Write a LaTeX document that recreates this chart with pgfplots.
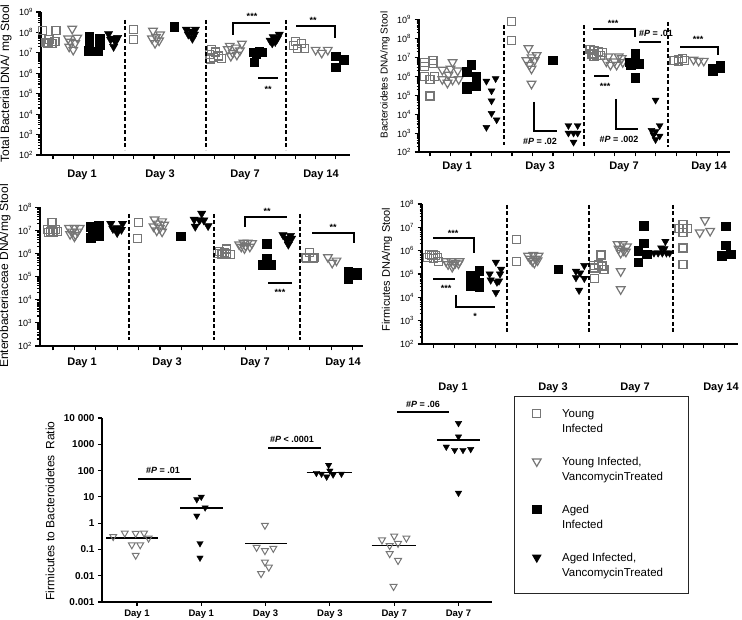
\documentclass[border=0pt]{standalone}
\usepackage{pgfplots}
\pgfplotsset{compat=1.18}
\usepackage{fontspec}
\setmainfont{Liberation Sans}
\definecolor{yg}{RGB}{118,118,118}
\newcommand\dayfont{\fontsize{11}{12}\selectfont\bfseries}
\newcommand\lgd[2]{\vtop{\baselineskip=15pt\hbox to 108pt{#1\hfil}\hbox to 108pt{#2\hfil}}}
\tikzset{sig/.style={font=\fontsize{9}{9}\selectfont\bfseries, inner sep=0pt},
  bar/.style={line width=1.2pt},
  dsh/.style={line width=1.2pt, dash pattern=on 4pt off 2.5pt}}
\pgfplotsset{
 mypanel/.style={anchor=south west, scale only axis,
   axis lines=left, axis line style={-, line width=1.8pt},
   enlargelimits=false, clip=false,
   tick align=outside, major tick length=4.5pt, minor tick length=2.5pt,
   tick style={black, line width=1.1pt},
   xtick={0,...,14}, xticklabels={,,,,,,,,,,,,,,},
   ytick={1e2,1e3,1e4,1e5,1e6,1e7,1e8,1e9},
   yticklabels={10\textsuperscript{2},10\textsuperscript{3},10\textsuperscript{4},10\textsuperscript{5},10\textsuperscript{6},10\textsuperscript{7},10\textsuperscript{8},10\textsuperscript{9}},
   minor ytick={2e2,3e2,4e2,5e2,6e2,7e2,8e2,9e2,2e3,3e3,4e3,5e3,6e3,7e3,8e3,9e3,2e4,3e4,4e4,5e4,6e4,7e4,8e4,9e4,2e5,3e5,4e5,5e5,6e5,7e5,8e5,9e5,2e6,3e6,4e6,5e6,6e6,7e6,8e6,9e6,2e7,3e7,4e7,5e7,6e7,7e7,8e7,9e7,2e8,3e8,4e8,5e8,6e8,7e8,8e8,9e8},
   tick label style={font=\fontsize{9}{10}\selectfont},
 },
 yi/.style={only marks, color=yg, mark=square, mark size=4pt, mark options={line width=1.2pt}},
 yv/.style={only marks, color=yg, mark=triangle, mark size=5pt, mark options={rotate=180, line width=1.2pt}},
 ai/.style={only marks, color=black, mark=square*, mark size=4.3pt},
 av/.style={only marks, color=black, mark=triangle*, mark size=4.8pt, mark options={rotate=180}},
 dotlegend/.style={legend image code/.code={\draw[##1] plot coordinates {(0pt,4pt)};}},
}
\begin{document}
\begin{tikzpicture}[x=1pt,y=1pt]
\useasboundingbox (0pt,0pt) rectangle (742pt,619pt);

% ---------------- Panel A: total bacterial DNA
\begin{axis}[ymode=log, mypanel, at={(41pt,464pt)}, width=309pt, height=143pt,
  xmin=-0.594, xmax=14.70, ymin=1e2, ymax=1e9]
\addplot[yi] coordinates {(-0.5,1.2e8) (0.15,1.2e8) (-0.2,4.5e7) (-0.35,3.2e7) (-0.05,3.0e7) (0.1,3.5e7) (-0.25,3e7)
 (4.0,1.4e8) (4.0,4.5e7)
 (7.85,1.5e7) (8.05,1.1e7) (7.75,8e6) (8.2,7e6) (7.95,6e6) (8.35,5.5e6) (7.8,5e6)
 (12.0,3.5e7) (12.3,3e7) (11.9,2.2e7) (12.45,1.7e7) (12.1,1.6e7)};
\addplot[yv] coordinates {(0.95,1.5e8) (0.75,5e7) (1.2,5.5e7) (0.85,3.5e7) (1.1,3e7) (0.8,2e7) (1.0,1.4e7)
 (4.95,1.2e8) (5.3,8e7) (5.1,6e7) (4.9,5e7) (5.25,4e7) (5.05,3e7)
 (9.35,2.8e7) (8.75,2.2e7) (9.05,1.8e7) (8.65,1.5e7) (9.25,1.3e7) (8.9,1e7) (9.1,8e6) (8.8,7e6)
 (13.0,1.4e7) (13.3,1e7) (13.6,1.4e7)};
\addplot[ai] coordinates {(1.8,6e7) (2.3,5e7) (2.3,2.5e7) (1.8,2e7) (1.75,1.3e7) (2.2,1.2e7)
 (6.0,1.9e8)
 (10.2,1.2e7) (9.9,1.1e7) (10.35,1.1e7) (10.05,9e6) (9.95,3.5e6)
 (14.0,7e6) (14.4,4.5e6) (14.0,2e6)};
\addplot[av] coordinates {(2.75,8.5e7) (3.0,5e7) (3.2,5.5e7) (2.85,4.5e7) (3.1,3.5e7) (3.0,2e7)
 (6.6,1.4e8) (7.05,1.4e8) (6.85,1.1e8) (6.7,8e7) (7.0,8e7) (6.9,5e7)
 (11.2,8e7) (10.9,6e7) (11.1,5e7) (10.75,4e7) (11.0,3.5e7) (10.85,3e7)};
\end{axis}

% ---------------- Panel B: Bacteroidetes
\begin{axis}[ymode=log, mypanel, at={(419pt,467pt)}, width=311pt, height=132.5pt,
  xmin=-0.537, xmax=14.63, ymin=1e2, ymax=1e9]
\addplot[yi] coordinates {(-0.25,5.5e6) (0.15,7e6) (-0.25,3.2e6) (0.15,4.7e6) (-0.25,1e6) (0.0,7e5) (0.2,1e6) (0.0,9e4)
 (3.98,7.6e8) (3.98,8e7)
 (7.8,2.5e7) (8.0,2.2e7) (8.2,2e7) (8.4,1.8e7) (7.9,1.5e7) (8.1,1.3e7) (8.3,1.2e7) (8.0,1.1e7)
 (11.9,6.5e6) (12.1,7.5e6) (12.3,9e6) (12.1,6e6) (12.4,6.5e6)};
\addplot[yv] coordinates {(1.1,5.5e6) (0.6,2.2e6) (1.0,2.5e6) (1.35,2e6) (0.9,1.2e6) (0.6,7e5) (1.1,6.5e5) (1.4,7e5) (0.85,4.5e5)
 (4.8,3e7) (5.2,1.3e7) (4.95,1e7) (4.7,7e6) (5.1,7e6) (4.85,4e6) (4.95,2.5e6) (4.95,4e5)
 (8.7,1.1e7) (9.2,1.1e7) (9.35,9e6) (8.6,6e6) (9.0,6e6) (9.4,5.5e6) (8.8,4e6) (9.1,4e6)
 (12.85,7.5e6) (13.1,6.5e6) (13.35,6.5e6)};
\addplot[ai] coordinates {(2.0,4.2e6) (1.8,1.8e6) (2.25,1e6) (2.25,5e5) (1.8,3e5) (2.25,3e5) (1.8,2.2e5)
 (5.98,7e6)
 (10.0,1.6e7) (9.75,5.5e6) (10.2,4.5e6) (9.8,4e6) (10.0,8.5e5)
 (13.8,2.6e6) (13.8,1.9e6) (14.15,3.8e6) (14.15,2.8e6)};
\addplot[av, mark size=4pt] coordinates {(2.75,5.5e5) (3.2,7.5e5) (3.0,1.7e5) (3.0,5e4) (3.0,1.1e4) (3.25,5e3) (2.75,2e3)
 (6.75,2.5e3) (7.2,2.5e3) (6.75,1e3) (7.0,1e3) (7.2,1e3) (7.0,3.3e2)
 (11.0,5.5e4) (11.2,2.5e3) (10.8,1.4e3) (11.0,1.2e3) (10.9,8e2) (11.2,7e2) (11.0,4.5e2)};
\end{axis}

% ---------------- Panel C: Enterobacteriaceae
\begin{axis}[ymode=log, mypanel, at={(40pt,273pt)}, width=323pt, height=138.5pt,
  xmin=-0.607, xmax=14.49, ymin=1e2, ymax=1e8]
\addplot[yi] coordinates {(-0.05,2.3e7) (-0.25,1.1e7) (0.1,1.1e7) (-0.1,9e6) (0.2,9e6) (0.0,8e6) (-0.2,8.5e6)
 (4.0,2.2e7) (3.95,4.5e6)
 (8.1,1.6e6) (7.8,1.2e6) (8.0,1.1e6) (7.7,1e6) (7.9,9e5) (8.3,9e5) (8.1,1.05e6)
 (12.0,1.1e6) (11.8,7e5) (12.2,7e5) (11.85,6e5) (12.15,6.5e5)};
\addplot[yv] coordinates {(0.75,1.3e7) (1.0,1.3e7) (1.25,1.3e7) (0.9,9e6) (1.15,9e6) (0.8,7e6) (1.05,6.5e6) (1.0,5.5e6)
 (4.75,3e7) (5.1,2.5e7) (4.9,2e7) (5.2,1.8e7) (4.7,1.5e7) (5.0,1.3e7) (4.85,1e7) (5.1,9e6)
 (8.7,2.5e6) (8.9,3e6) (9.1,3e6) (9.3,2.8e6) (8.8,2e6) (9.0,2.2e6) (9.2,2e6) (8.95,1.7e6)
 (12.85,7e5) (13.25,5e5) (13.05,4e5)};
\addplot[ai] coordinates {(1.75,1.5e7) (2.15,1.6e7) (2.15,1.1e7) (1.85,1e7) (1.75,5e6) (2.15,6e6)
 (5.97,5.7e6)
 (10.0,2.7e6) (10.0,6e5) (9.8,3.3e5) (10.2,3.3e5)
 (13.8,1.7e5) (14.2,1.5e5) (13.8,8e4) (14.2,1.2e5)};
\addplot[av] coordinates {(2.7,2e7) (3.25,2e7) (3.0,1.3e7) (2.8,1.2e7) (3.2,1.1e7) (3.0,8e6)
 (6.95,5.5e7) (6.6,3e7) (6.85,2.8e7) (7.05,2.8e7) (6.65,1.5e7) (7.25,1.6e7)
 (10.75,6.5e6) (11.1,6e6) (10.9,4.5e6) (11.15,4.5e6) (10.95,3.5e6) (11.0,2.5e6)};
\end{axis}

% ---------------- Panel D: Firmicutes
\begin{axis}[ymode=log, mypanel, at={(422pt,275pt)}, width=316pt, height=140pt,
  xmin=-0.553, xmax=14.64, ymin=1e2, ymax=1e8]
\addplot[yi] coordinates {(-0.2,7e5) (0.0,7e5) (-0.1,6e5) (0.1,6e5) (-0.3,5e5) (0.2,5e5) (0.0,4.5e5) (0.25,3.5e5)
 (4.0,2.9e6) (4.0,3.4e5)
 (8.05,6.5e5) (7.7,2.4e5) (7.95,2.6e5) (8.1,2.2e5) (7.75,1.8e5) (8.2,1.5e5) (7.75,6.5e4)
 (12.0,1.3e7) (11.8,9e6) (12.2,9e6) (12.0,6e6) (12.0,1.3e6) (12.0,2.5e5)};
\addplot[yv] coordinates {(0.6,3.5e5) (0.85,3.5e5) (1.05,3e5) (1.25,3.5e5) (0.7,2.6e5) (0.95,2.5e5) (1.2,2.8e5) (0.9,2e5)
 (4.55,6e5) (4.8,6.5e5) (5.05,6e5) (4.65,4.5e5) (4.9,4.5e5) (4.75,3.5e5) (5.0,3.8e5) (4.85,3e5)
 (8.85,1.9e6) (9.1,1.9e6) (9.3,1.5e6) (8.9,1.2e6) (9.15,1e6) (9.0,8e5) (9.25,9e5) (9.0,1.3e5) (9.0,2.2e4)
 (13.05,2e7) (12.8,6e6) (13.3,7e6)};
\addplot[ai] coordinates {(2.2,1.35e5) (1.8,9e4) (2.0,6e4) (2.2,4.5e4) (1.8,3e4) (2.2,2.7e4) (1.8,4e4)
 (6.0,1.6e5)
 (10.1,1.2e7) (10.1,2.1e6) (9.85,1e6) (10.25,7e5) (9.85,3.2e5)
 (14.05,1.1e7) (14.05,1.7e6) (13.85,6e5) (14.3,7e5)};
\addplot[av, mark size=4.3pt] coordinates {(3.0,3.2e5) (3.25,1.6e5) (2.7,1e5) (3.2,1e5) (2.75,5.5e4) (3.05,4.5e4) (3.15,5e4) (3.0,1.6e4)
 (7.25,2.3e5) (6.85,1.3e5) (7.05,1.1e5) (6.85,7e4) (7.25,6.5e4) (7.0,2e4)
 (11.15,2.5e6) (10.95,1.3e6) (11.1,1.2e6) (10.6,8e5) (10.8,8e5) (11.0,8e5) (11.2,8e5) (11.35,8e5)};
\end{axis}

% ---------------- Panel E: F/B ratio
\begin{axis}[ymode=log, at={(102pt,17pt)}, anchor=south west, scale only axis, width=390pt, height=184pt,
  xmin=-0.544, xmax=5.521, ymin=1e-3, ymax=1e4,
  axis lines=left, axis line style={-, line width=1.8pt}, enlargelimits=false, clip=false,
  tick align=outside, major tick length=4pt, tick style={black, line width=1.2pt},
  yminorticks=false,
  ytick={1e-3,1e-2,1e-1,1,10,100,1000,10000},
  yticklabels={0.001,0.01,0.1,1,10,100,1000,10 000},
  xtick={0,...,5}, xticklabels={Day 1,Day 1,Day 3,Day 3,Day 7,Day 7},
  yticklabel style={font=\fontsize{10}{11}\selectfont\bfseries},
  xticklabel style={font=\fontsize{9.5}{10}\selectfont\bfseries},
  legend style={at={(1.0564,1.1196)}, anchor=north west, draw=black!85, line width=0.9pt,
    inner xsep=18pt, inner ysep=6pt, column sep=21pt, row sep=7pt,
    cells={anchor=base west},
    nodes={inner sep=0pt, text height=15pt, text depth=26pt, font=\fontsize{11.5}{13}\selectfont}},
]
\addlegendimage{yi, dotlegend}
\addlegendentry{\lgd{Young}{Infected}}
\addlegendimage{yv, dotlegend}
\addlegendentry{\lgd{Young Infected,}{VancomycinTreated}}
\addlegendimage{ai, dotlegend}
\addlegendentry{\lgd{Aged}{Infected}}
\addlegendimage{av, dotlegend}
\addlegendentry{\lgd{Aged Infected,}{VancomycinTreated}}
\addplot[yv, mark size=4pt, mark options={rotate=180, line width=1pt}, forget plot] coordinates {
 (-0.37,0.31) (-0.19,0.42) (-0.02,0.41) (0.11,0.42) (0.18,0.27) (-0.08,0.15) (0.05,0.15) (-0.02,0.06)
 (1.86,0.12) (1.99,0.83) (1.99,0.09) (2.12,0.11) (1.99,0.033) (2.05,0.021) (1.93,0.012)
 (3.81,0.23) (4.0,0.32) (4.19,0.27) (3.93,0.14) (4.06,0.17) (3.93,0.069) (4.06,0.038) (3.99,0.0039)};
\addplot[av, mark size=3.7pt, forget plot] coordinates {
 (0.93,8) (1.0,10) (1.06,3.9) (0.93,1.9) (0.98,0.17) (0.98,0.048)
 (2.98,162) (3.0,98) (2.79,80) (2.87,75) (2.95,58) (3.05,70) (3.18,75)
 (5.0,6300) (5.0,1950) (4.81,800) (4.94,600) (5.07,600) (5.19,650) (5.0,14)};
\addplot[black, line width=1.5pt, forget plot] coordinates {(-0.48,0.27) (0.33,0.27)};
\addplot[black, line width=1.5pt, forget plot] coordinates {(0.67,3.7) (1.34,3.7)};
\addplot[black, line width=1.5pt, forget plot] coordinates {(1.68,0.165) (2.33,0.165)};
\addplot[black, line width=1.5pt, forget plot] coordinates {(2.64,85) (3.34,85)};
\addplot[black, line width=1.5pt, forget plot] coordinates {(3.65,0.14) (4.34,0.14)};
\addplot[black, line width=1.5pt, forget plot] coordinates {(4.67,1450) (5.33,1450)};
\end{axis}

\begin{scope}[shift={(0pt,619pt)}, y=-1pt]
% ---------------- dashed day separators
\draw[dsh] (125,20) -- (125,150); \draw[dsh] (206,20) -- (206,150); \draw[dsh] (286,20) -- (286,150);
\draw[dsh] (504,25) -- (504,145); \draw[dsh] (584,25) -- (584,148); \draw[dsh] (668,22) -- (668,147);
\draw[dsh] (129,214) -- (129,340); \draw[dsh] (214,214) -- (214,340); \draw[dsh] (300,214) -- (300,340);
\draw[dsh] (507,205) -- (507,332); \draw[dsh] (589,205) -- (589,332); \draw[dsh] (673,205) -- (673,334);

% ---------------- y labels
\node[rotate=90, font=\fontsize{12}{12}\selectfont] at (6,83.5) {Total Bacterial DNA/ mg Stool};
\node[rotate=90, font=\fontsize{10}{10}\selectfont] at (385,75) {Bacteroidetes DNA/mg Stool};
\node[rotate=90, font=\fontsize{12}{12}\selectfont] at (5,276) {Enterobacteriaceae DNA/mg Stool};
\node[rotate=90, font=\fontsize{11}{11}\selectfont] at (387,269.5) {Firmicutes DNA/mg Stool};
\node[rotate=90, font=\fontsize{12}{12}\selectfont] at (50,511) {Firmicutes to Bacteroidetes\, Ratio};

% ---------------- day labels
\node[font=\dayfont] at (82,175) {Day 1}; \node[font=\dayfont] at (160,175) {Day 3};
\node[font=\dayfont] at (245,175) {Day 7}; \node[font=\dayfont] at (321,175) {Day 14};
\node[font=\dayfont] at (457,167) {Day 1}; \node[font=\dayfont] at (540,167) {Day 3};
\node[font=\dayfont] at (624,167) {Day 7}; \node[font=\dayfont] at (709,167) {Day 14};
\node[font=\dayfont] at (82,363) {Day 1}; \node[font=\dayfont] at (167,363) {Day 3};
\node[font=\dayfont] at (255,363) {Day 7}; \node[font=\dayfont] at (343,363) {Day 14};
\node[font=\dayfont] at (453,388) {Day 1}; \node[font=\dayfont] at (553,388) {Day 3};
\node[font=\dayfont] at (635,388) {Day 7}; \node[font=\dayfont] at (721,388) {Day 14};

% ---------------- significance marks
% A
\node[sig] at (252,16) {***}; \draw[bar] (233,35) -- (233,23) -- (270,23);
\node[sig] at (268,89) {**}; \draw[bar] (258,78) -- (278,78);
\node[sig] at (313,20) {**}; \draw[bar] (296,26) -- (335,26) -- (335,38);
% B
\node[sig] at (613,23) {***}; \draw[bar] (593,29) -- (635,29) -- (635,37);
\node[sig] at (656,33) {\#\textit{P} = .01}; \draw[bar] (639,42) -- (661,42);
\node[sig] at (605,86) {***}; \draw[bar] (594,76) -- (609,76);
\draw[bar] (616,99) -- (616,129) -- (638,129); \node[sig] at (619,139) {\#\textit{P} = .002};
\draw[bar] (534,102) -- (534,131) -- (557,131); \node[sig] at (540,141) {\#\textit{P} = .02};
\node[sig] at (698,39) {***}; \draw[bar] (680,47) -- (718,47) -- (718,55);
% C
\node[sig] at (267,211) {**}; \draw[bar] (245,227) -- (245,217) -- (287,217);
\node[sig] at (280,292) {***}; \draw[bar] (268,283) -- (292,283);
\node[sig] at (333,227) {**}; \draw[bar] (312,233) -- (354,233) -- (354,243);
% D
\node[sig] at (453,233) {***}; \draw[bar] (433,238) -- (474,238) -- (474,253);
\node[sig] at (446,288) {***}; \draw[bar] (433,279) -- (455,279);
\node[sig] at (475,316) {*}; \draw[bar] (456,295) -- (456,307) -- (495,307);
% E
\node[sig] at (163,470) {\#\textit{P} = .01}; \draw[line width=2pt] (138,479) -- (191,479);
\node[sig] at (292,439) {\#\textit{P} < .0001}; \draw[line width=2pt] (268,448) -- (321,448);
\node[sig] at (423,404) {\#\textit{P} = .06}; \draw[line width=2pt] (397,412) -- (449,412);
\end{scope}
\end{tikzpicture}
\end{document}
